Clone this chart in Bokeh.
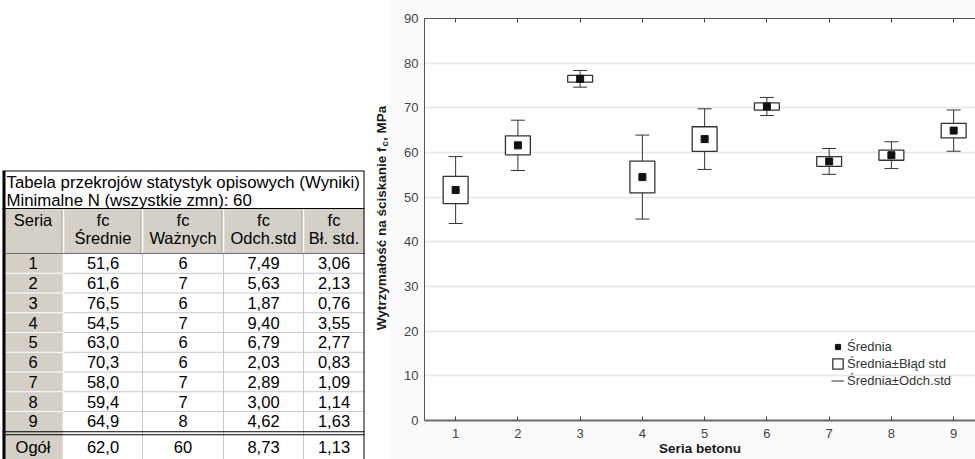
from math import pi
from bokeh.plotting import figure
from bokeh.models import (Range1d, LinearAxis, FixedTicker, ColumnDataSource,
                          Whisker, TeeHead, Legend, LegendItem)
from bokeh.layouts import row
from bokeh.embed import file_html
from bokeh.resources import INLINE
from bokeh.core.properties import value

# ---------------- data ----------------
seria = ["1", "2", "3", "4", "5", "6", "7", "8", "9"]
seria_x = [1, 2, 3, 4, 5, 6, 7, 8, 9]
fc_srednie = [51.6, 61.6, 76.5, 54.5, 63.0, 70.3, 58.0, 59.4, 64.9]
fc_wazne = [6, 7, 6, 7, 6, 6, 7, 7, 8]
fc_odch = [7.49, 5.63, 1.87, 9.40, 6.79, 2.03, 2.89, 3.00, 4.62]
fc_blad = [3.06, 2.13, 0.76, 3.55, 2.77, 0.83, 1.09, 1.14, 1.63]
ogol_label = "Ogół"
ogol_srednia = 62.0
ogol_n = 60
ogol_odch = 8.73
ogol_blad = 1.13
table_title = "Tabela przekrojów statystyk opisowych (Wyniki)"
table_subtitle = "Minimalne N (wszystkie zmn): 60"
head_line1 = ["Seria", "fc", "fc", "fc", "fc"]
head_line2 = ["", "Średnie", "Ważnych", "Odch.std", "Bł. std."]
y_ticks = [0, 10, 20, 30, 40, 50, 60, 70, 80, 90]
x_title = "Seria betonu"
y_title_main = "Wytrzymałość na ściskanie f"
y_title_sub = "c"
y_title_tail = ", MPa"
legend_labels = ["Średnia", "Średnia±Błąd std", "Średnia±Odch.std"]

FONT = "Liberation Sans"


def pl(v, d):
    return f"{v:.{d}f}".replace(".", ",")


H = 459
# ---------------- table figure (page-pixel coordinates) ----------------
TW = 390
t = figure(width=TW, height=H, x_range=Range1d(0, TW), y_range=Range1d(H, 0),
           output_backend="svg", toolbar_location=None, min_border=0,
           x_axis_location=None, y_axis_location=None, outline_line_color=None,
           background_fill_color="white", border_fill_color="white", frame_align=False)
t.grid.visible = False

cx = [2, 63, 142, 223, 303, 364]
y_top, y_t1, y_t2, y_hline = 170.5, 182, 200, 208
y_h1, y_h2, y_hb, rh = 219, 237, 253, 19.75
y9b = y_hb + 9 * rh
y_og = y9b + 15.5
y_end = H
centers = [(cx[i] + cx[i + 1]) / 2 for i in range(5)]
GRAY = "#d4d0c8"

t.quad(left=cx[:-1], right=cx[1:], top=[y_hline] * 5, bottom=[y_hb] * 5,
       fill_color=GRAY, line_color=None)
t.quad(left=[cx[0]], right=[cx[1]], top=[y_hb], bottom=[y_end],
       fill_color=GRAY, line_color=None)

row_bounds = [y_hb + i * rh for i in range(1, 9)]
t.segment(x0=[cx[1]] * 8, y0=row_bounds, x1=[cx[5]] * 8, y1=row_bounds,
          line_color="#c8c8c8", line_width=1)
t.segment(x0=[cx[0]] * 8, y0=row_bounds, x1=[cx[1]] * 8, y1=row_bounds,
          line_color="white", line_width=1)
t.segment(x0=cx[1:5], y0=[y_hb] * 4, x1=cx[1:5], y1=[y_end] * 4,
          line_color="#c8c8c8", line_width=1)
t.segment(x0=[cx[1]], y0=[y_hb], x1=[cx[1]], y1=[y_end], line_color="white", line_width=1.5)
t.segment(x0=[c - 1.5 for c in cx[1:5]], y0=[y_hline] * 4, x1=[c - 1.5 for c in cx[1:5]],
          y1=[y_hb] * 4, line_color="#a8a49c", line_width=1)
t.segment(x0=cx[1:5], y0=[y_hline] * 4, x1=cx[1:5], y1=[y_hb] * 4,
          line_color="white", line_width=1.5)
t.segment(x0=[cx[0]], y0=[y_hb], x1=[cx[5]], y1=[y_hb], line_color="#707070", line_width=1)
t.segment(x0=[cx[0]] * 4, y0=[y_top, y_hline, y9b + 0.5, y9b + 3.5],
          x1=[cx[5]] * 4, y1=[y_top, y_hline, y9b + 0.5, y9b + 3.5],
          line_color="black", line_width=1)
t.segment(x0=[cx[5] - 0.5], y0=[y_top], x1=[cx[5] - 0.5], y1=[y_end],
          line_color="black", line_width=1)
t.segment(x0=[cx[0] + 1.5], y0=[y_top], x1=[cx[0] + 1.5], y1=[y_end],
          line_color="black", line_width=3)

tf = dict(text_font=value(FONT), text_color="black", text_baseline="middle")
t.text(x=[cx[0] + 4] * 2, y=[y_t1, y_t2], text=[table_title, table_subtitle],
       text_align="left", text_font_size="16.8px", **tf)
cf = dict(text_font_size="16.5px", text_align="center", **tf)
t.text(x=centers, y=[y_h1] * 5, text=head_line1, **cf)
t.text(x=centers[1:], y=[y_h2] * 4, text=head_line2[1:], **cf)
row_c = [y_hb + (i + 0.5) * rh for i in range(9)]
cols = [seria,
        [pl(v, 1) for v in fc_srednie],
        [str(v) for v in fc_wazne],
        [pl(v, 2) for v in fc_odch],
        [pl(v, 2) for v in fc_blad]]
for j in range(5):
    t.text(x=[centers[j]] * 9, y=row_c, text=cols[j], **cf)
t.text(x=centers, y=[y_og] * 5,
       text=[ogol_label, pl(ogol_srednia, 1), str(ogol_n), pl(ogol_odch, 2), pl(ogol_blad, 2)],
       **cf)

# y-axis title of the chart (rotated, with subscript c)
yf = dict(text_font=value(FONT), text_font_style="bold", text_color="#1a1a1a",
          text_baseline="middle", angle=pi / 2)
t.text(x=[381], y=[147], text=[y_title_main], text_align="right", text_font_size="13.5px", **yf)
t.text(x=[384], y=[146], text=[y_title_sub], text_align="left", text_font_size="9.5px", **yf)
t.text(x=[381], y=[140.5], text=[y_title_tail], text_align="left", text_font_size="13.5px", **yf)

# ---------------- chart figure ----------------
CW = 975 - TW
p = figure(width=CW, height=H, x_range=Range1d(0.5, 9.351), y_range=Range1d(0, 90),
           output_backend="svg", toolbar_location=None,
           min_border_left=34, min_border_right=0, min_border_top=18, min_border_bottom=39,
           outline_line_color=None, background_fill_color="white",
           border_fill_color="#fafafa", frame_align=False)

xt = FixedTicker(ticks=seria_x)
yt = FixedTicker(ticks=y_ticks)

p.xaxis.ticker = xt
p.xaxis.major_tick_in = 4
p.xaxis.major_tick_out = 0
p.xaxis.minor_tick_line_color = None
p.xaxis.axis_line_color = "#6a6a6a"
p.xaxis.axis_line_width = 2
p.xaxis.major_tick_line_color = "#444444"
p.xaxis.major_label_standoff = 8
p.xaxis.major_label_text_font = FONT
p.xaxis.major_label_text_font_size = "13px"
p.xaxis.major_label_text_color = "#444444"
p.xaxis.axis_label = x_title
p.xaxis.axis_label_standoff = 0
p.xaxis.axis_label_text_font = FONT
p.xaxis.axis_label_text_font_size = "13.5px"
p.xaxis.axis_label_text_font_style = "bold"
p.xaxis.axis_label_text_color = "#1a1a1a"

p.yaxis.ticker = yt
p.yaxis.major_tick_in = 0
p.yaxis.major_tick_out = 0
p.yaxis.minor_tick_line_color = None
p.yaxis.axis_line_color = "#555555"
p.yaxis.major_label_standoff = 6
p.yaxis.major_label_text_font = FONT
p.yaxis.major_label_text_font_size = "13px"
p.yaxis.major_label_text_color = "#444444"

top = LinearAxis(ticker=xt, major_tick_in=4, major_tick_out=0, minor_tick_line_color=None,
                 axis_line_color="#555555", major_tick_line_color="#444444",
                 major_label_overrides={k: "" for k in seria_x}, major_label_standoff=0)
p.add_layout(top, "above")

p.xgrid.visible = False
p.ygrid.ticker = yt
p.ygrid.grid_line_color = "#e6e6e6"
p.ygrid.grid_line_width = 1.5

src = ColumnDataSource(dict(
    x=seria_x, m=fc_srednie,
    se_lo=[m - s for m, s in zip(fc_srednie, fc_blad)],
    se_hi=[m + s for m, s in zip(fc_srednie, fc_blad)],
    sd_lo=[m - s for m, s in zip(fc_srednie, fc_odch)],
    sd_hi=[m + s for m, s in zip(fc_srednie, fc_odch)],
))

wh = Whisker(source=src, base="x", upper="sd_hi", lower="sd_lo",
             line_color="#333333", line_width=1, level="underlay",
             upper_head=TeeHead(size=14, line_color="#333333", line_width=1),
             lower_head=TeeHead(size=14, line_color="#333333", line_width=1))
p.add_layout(wh)

# legend stand-in for the whisker symbol (not drawn in the plot area)
r_vline = p.vspan(x="x", source=src, line_color="#333333", line_width=1, visible=False)
r_box = p.vbar(x="x", width=0.4, bottom="se_lo", top="se_hi", source=src,
               fill_color="white", line_color="#333333", line_width=1.3)
r_mean = p.scatter("x", "m", source=src, marker="square", size=7,
                   fill_color="#111111", line_color="#111111")

leg = Legend(items=[LegendItem(label=legend_labels[0], renderers=[r_mean]),
                    LegendItem(label=legend_labels[1], renderers=[r_box]),
                    LegendItem(label=legend_labels[2], renderers=[r_vline])],
             location=(407, 32), orientation="vertical",
             border_line_color=None, background_fill_alpha=0,
             padding=0, margin=0, spacing=2,
             glyph_width=13, glyph_height=13, label_height=13, label_standoff=3,
             label_text_font=FONT, label_text_font_size="13px", label_text_color="#333333")
p.add_layout(leg)

layout = row(t, p)
open("out.html", "w").write(file_html(layout, INLINE))
